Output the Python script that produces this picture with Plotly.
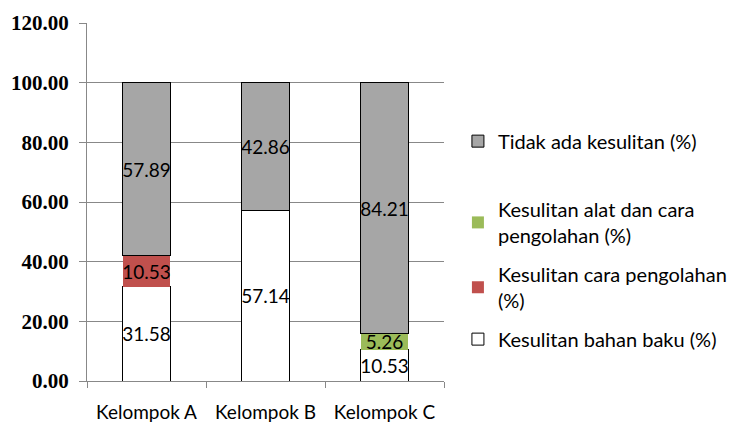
import plotly.graph_objects as go

categories = ["Kelompok A", "Kelompok B", "Kelompok C"]
bahan_baku = [31.58, 57.14, 10.53]
cara_pengolahan = [10.53, None, None]
alat_cara = [None, None, 5.26]
tidak_ada = [57.89, 42.86, 84.21]

series = [
    ("Kesulitan bahan baku (%)", bahan_baku, "#FFFFFF", 1, "legend4"),
    ("Kesulitan cara pengolahan<br>(%)", cara_pengolahan, "#C0504D", 0, "legend3"),
    ("Kesulitan alat dan cara<br>pengolahan (%)", alat_cara, "#9BBB59", 0, "legend2"),
    ("Tidak ada kesulitan (%)", tidak_ada, "#A6A6A6", 1, "legend"),
]

fig = go.Figure()
for name, vals, color, lw, leg in series:
    fig.add_trace(go.Bar(
        x=categories, y=vals, name=name,
        marker=dict(color=color, line=dict(color="#000000", width=lw)),
        text=[f"{v:.2f}" if v is not None else "" for v in vals],
        textposition="inside", insidetextanchor="middle", textangle=0,
        constraintext="none",
        textfont=dict(family="Lato", size=19, color="#000000"),
        width=0.4, legend=leg,
    ))

legfont = dict(family="Lato", size=20, color="#000000")
def leg(y):
    return dict(x=1.039, xanchor="left", y=y, yanchor="middle",
                font=legfont, itemwidth=30, bgcolor="rgba(0,0,0,0)")

fig.update_layout(
    barmode="stack",
    width=736, height=424,
    margin=dict(l=87, r=292, t=23, b=43, autoexpand=False),
    paper_bgcolor="white", plot_bgcolor="white",
    showlegend=True,
    legend=leg(0.670),
    legend2=leg(0.443),
    legend3=leg(0.262),
    legend4=leg(0.117),
    xaxis=dict(
        automargin=False,
        showline=True, linecolor="#888888", linewidth=1,
        ticks="outside", tickson="boundaries", ticklen=6, tickcolor="#888888",
        tickfont=dict(family="Lato", size=19, color="#000000"),
        ticklabelstandoff=14,
        showgrid=False,
    ),
    yaxis=dict(
        automargin=False,
        range=[0, 120], dtick=20, tickformat=".2f",
        showline=True, linecolor="#888888", linewidth=1,
        ticks="outside", ticklen=7, tickcolor="#888888",
        showgrid=True, gridcolor="#888888", gridwidth=1,
        tickfont=dict(family="Liberation Serif", size=21, color="#000000", weight="bold"),
        ticklabelstandoff=6,
        zeroline=False,
    ),
)

fig.write_html("out.html", config={"displayModeBar": False},
               post_script="document.body.style.margin='0';")
